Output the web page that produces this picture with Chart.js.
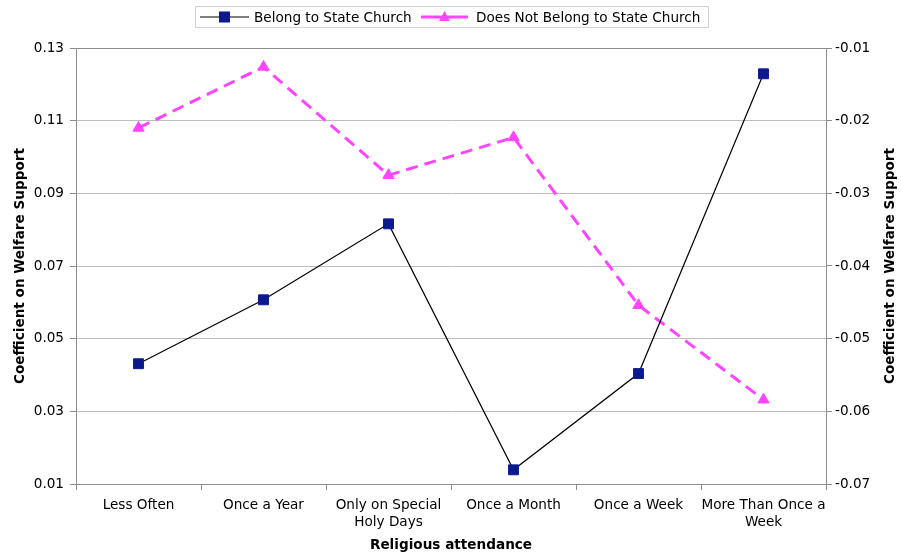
<!DOCTYPE html>
<html>
<head>
<meta charset="utf-8">
<script src="https://cdn.jsdelivr.net/npm/chart.js@4/dist/chart.umd.min.js"></script>
<style>
  html, body { margin: 0; padding: 0; background: #fff; }
  #wrap { width: 901px; height: 558px; position: relative; }
</style>
</head>
<body>
<div id="wrap"><canvas id="c" width="901" height="558"></canvas></div>
<script>
// Religious attendance categories (multi-line labels as arrays)
const categories = [
  ["Less Often"],
  ["Once a Year"],
  ["Only on Special", "Holy Days"],
  ["Once a Month"],
  ["Once a Week"],
  ["More Than Once a", "Week"]
];

// Coefficients on welfare support, left axis
const belongValues = [0.0431, 0.0607, 0.0816, 0.0139, 0.0404, 0.1229];
// Coefficients on welfare support, right axis
const notBelongValues = [-0.0210, -0.0126, -0.0275, -0.0223, -0.0454, -0.0584];

const seriesNames = ["Belong to State Church", "Does Not Belong to State Church"];
const yTitle = "Coefficient on Welfare Support";
const xTitle = "Religious attendance";

const leftRange = { min: 0.01, max: 0.13, step: 0.02 };
const rightRange = { min: -0.07, max: -0.01, step: 0.01 };

const FONT = "'DejaVu Sans', Verdana, sans-serif";
const FS = 13.6;
const AXIS_GRAY = '#8c8c8c';
const GRID_GRAY = '#bcbcbc';
const NAVY = '#0d1a8e';
const PINK = '#ff44ff';

// Legend with line + marker samples inside a thin box
const lineLegend = {
  id: 'lineLegend',
  afterDraw(chart) {
    const ctx = chart.ctx;
    ctx.save();
    ctx.strokeStyle = '#d2d2d2';
    ctx.lineWidth = 1;
    ctx.strokeRect(195.5, 6.5, 513, 21);
    const cy = 17;
    const items = [
      { x0: 200, x1: 249, tx: 254, ds: chart.data.datasets[0] },
      { x0: 421, x1: 468, tx: 476, ds: chart.data.datasets[1] }
    ];
    items.forEach(it => {
      const ds = it.ds;
      ctx.strokeStyle = ds.borderColor;
      ctx.lineWidth = ds.borderWidth;
      ctx.setLineDash([]);
      ctx.beginPath();
      ctx.moveTo(it.x0, cy);
      ctx.lineTo(it.x1, cy);
      ctx.stroke();
      const mx = (it.x0 + it.x1) / 2;
      ctx.fillStyle = ds.pointBackgroundColor;
      ctx.beginPath();
      if (ds.pointStyle === 'rect') {
        ctx.rect(mx - 5.5, cy - 5.5, 11, 11);
      } else {
        ctx.moveTo(mx, cy - 6);
        ctx.lineTo(mx + 5.5, cy + 4);
        ctx.lineTo(mx - 5.5, cy + 4);
        ctx.closePath();
      }
      ctx.fill();
      ctx.fillStyle = '#000';
      ctx.font = FS + 'px ' + FONT;
      ctx.textBaseline = 'middle';
      ctx.textAlign = 'left';
      ctx.fillText(ds.label, it.tx, cy + 1);
    });
    ctx.restore();
  }
};

// Top border of the plot frame and the right-hand axis title (reads bottom to top)
const frameAndRightTitle = {
  id: 'frameAndRightTitle',
  beforeDatasetsDraw(chart) {
    const a = chart.chartArea, ctx = chart.ctx;
    ctx.save();
    ctx.strokeStyle = AXIS_GRAY;
    ctx.lineWidth = 1;
    ctx.beginPath();
    ctx.moveTo(a.left, a.top + 0.5);
    ctx.lineTo(a.right, a.top + 0.5);
    ctx.stroke();
    ctx.restore();
  },
  afterDraw(chart) {
    const a = chart.chartArea, ctx = chart.ctx;
    ctx.save();
    ctx.translate(890, (a.top + a.bottom) / 2);
    ctx.rotate(-Math.PI / 2);
    ctx.fillStyle = '#000';
    ctx.font = 'bold ' + FS + 'px ' + FONT;
    ctx.textAlign = 'center';
    ctx.textBaseline = 'middle';
    ctx.fillText(yTitle, 0, 0);
    ctx.restore();
  }
};

new Chart(document.getElementById('c'), {
  type: 'line',
  data: {
    labels: categories,
    datasets: [
      {
        label: seriesNames[0],
        data: belongValues,
        yAxisID: 'yLeft',
        borderColor: '#000000',
        borderWidth: 1.2,
        pointStyle: 'rect',
        pointRadius: 7,
        pointHoverRadius: 7,
        pointBackgroundColor: NAVY,
        pointBorderColor: NAVY,
        pointBorderWidth: 1,
        tension: 0,
        fill: false
      },
      {
        label: seriesNames[1],
        data: notBelongValues,
        yAxisID: 'yRight',
        borderColor: PINK,
        borderWidth: 3,
        borderDash: [12, 7],
        pointStyle: 'triangle',
        pointRadius: 6.5,
        pointHoverRadius: 6.5,
        pointBackgroundColor: PINK,
        pointBorderColor: PINK,
        pointBorderWidth: 1,
        tension: 0,
        fill: false
      }
    ]
  },
  options: {
    responsive: false,
    animation: false,
    devicePixelRatio: 1,
    layout: { padding: { top: 48, left: 0, right: 0, bottom: 0 } },
    plugins: {
      legend: { display: false },
      tooltip: { enabled: false }
    },
    scales: {
      x: {
        offset: true,
        grid: {
          offset: true,
          drawOnChartArea: false,
          drawTicks: true,
          tickLength: 6,
          color: AXIS_GRAY
        },
        border: { color: AXIS_GRAY, width: 1 },
        ticks: {
          color: '#000',
          font: { family: FONT, size: FS, lineHeight: 1.25 },
          padding: 7,
          maxRotation: 0,
          autoSkip: false
        },
        title: {
          display: true,
          text: xTitle,
          color: '#000',
          font: { family: FONT, size: FS, weight: 'bold' },
          padding: { top: 0, bottom: 4 }
        },
        afterFit(scale) { scale.height = 74; }
      },
      yLeft: {
        position: 'left',
        min: leftRange.min,
        max: leftRange.max,
        grid: {
          color: GRID_GRAY,
          tickColor: AXIS_GRAY,
          tickLength: 6,
          drawTicks: true
        },
        border: { color: AXIS_GRAY, width: 1 },
        ticks: {
          stepSize: leftRange.step,
          color: '#000',
          font: { family: FONT, size: FS },
          padding: 6,
          callback: v => v.toFixed(2)
        },
        title: {
          display: true,
          text: yTitle,
          color: '#000',
          font: { family: FONT, size: FS, weight: 'bold' },
          padding: { top: 12, bottom: 0 }
        },
        afterFit(scale) { scale.width = 76; }
      },
      yRight: {
        position: 'right',
        min: rightRange.min,
        max: rightRange.max,
        grid: {
          drawOnChartArea: false,
          color: AXIS_GRAY,
          tickLength: 6,
          drawTicks: true
        },
        border: { color: AXIS_GRAY, width: 1 },
        ticks: {
          stepSize: rightRange.step,
          color: '#000',
          font: { family: FONT, size: FS },
          padding: 3,
          callback: v => v.toFixed(2)
        },
        afterFit(scale) { scale.width = 75; }
      }
    }
  },
  plugins: [lineLegend, frameAndRightTitle]
});
</script>
</body>
</html>
